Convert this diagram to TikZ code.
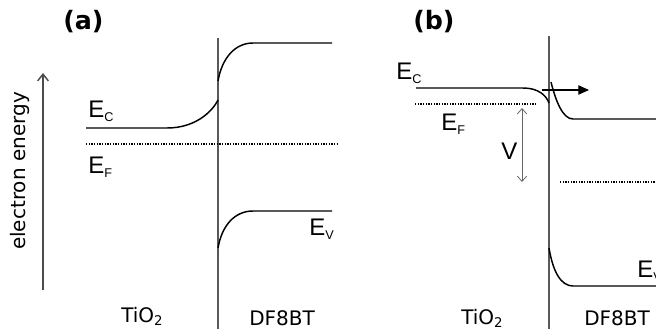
\documentclass[tikz,border=0pt]{standalone}
\usepackage{fontspec}
\setmainfont{DejaVu Sans}
\newfontfamily\arialf{Liberation Sans}
\usetikzlibrary{arrows.meta}
\newcommand{\Elab}[1]{{\arialf\fontsize{18pt}{18pt}\selectfont E\raisebox{-3pt}{\fontsize{9.5pt}{9.5pt}\selectfont #1}}}
\newcommand{\TiOtwo}{TiO\raisebox{-2.5pt}{\fontsize{10pt}{10pt}\selectfont 2}}
\tikzset{
  band/.style={line width=1.1pt, draw=black},
  iface/.style={line width=1.1pt, draw=black!65},
  fermi/.style={line width=1pt, dash pattern=on 0.9pt off 1.1pt},
  lbl/.style={inner sep=0pt, anchor=base west},
  mat/.style={inner sep=0pt, anchor=base west, font=\fontsize{15pt}{15pt}\selectfont},
  panel/.style={inner sep=0pt, anchor=base west, font=\fontsize{19pt}{19pt}\selectfont\bfseries},
  greyarrow/.style={draw=black!60, line width=0.6pt},
}
\begin{document}
\begin{tikzpicture}[x=0.75pt,y=-0.75pt]
\useasboundingbox (0,0) rectangle (656,329);

% ---------- panel (a) ----------
\node[panel] (pa) at (63,29) {(a)};
\draw[iface] (218,38) -- (218,329);
% conduction band
\draw[band] (86,128) -- (167,128) .. controls (195,128) and (212,112) .. (218,100);
\draw[band] (218,81) .. controls (222,58) and (235,43) .. (253,43) -- (332,43);
% Fermi level
\draw[fermi] (86,144) -- (338,144);
% valence band
\draw[band] (218,248) .. controls (222,225) and (235,211) .. (253,211) -- (332,211);
% labels
\node[lbl] (eca) at (88,117) {\Elab{C}};
\node[lbl] (efa) at (88,173) {\Elab{F}};
\node[lbl] (eva) at (309,235) {\Elab{V}};
\node[mat] (tioa) at (121,322) {\TiOtwo};
\node[mat] (dfa) at (249,325) {DF8BT};
% energy axis
\coordinate (axbot) at (43,290);
\coordinate (axtop) at (43,73);
\draw[draw=black!70, line width=1.1pt, -{Straight Barb[length=5pt,width=8pt]}] (axbot) -- (axtop);
\node[rotate=90, inner sep=0pt, font=\fontsize{15pt}{15pt}\selectfont] (ee) at (20,171) {electron energy};

% ---------- panel (b) ----------
\node[panel] (pb) at (413,29) {(b)};
\draw[iface] (549,36) -- (549,329);
% conduction band
\draw[band] (416,88) -- (523,88) .. controls (538,88) and (546,95) .. (549,103);
\draw[band] (551,82) .. controls (556,102) and (563,119) .. (573,119) -- (656,119);
% Fermi levels
\draw[fermi] (415,104) -- (537,104);
\draw[fermi] (560,182) -- (656,182);
% valence band
\draw[band] (549,248) .. controls (553,272) and (561,286) .. (573,286) -- (656,286);
% injection arrow
\coordinate (injs) at (542,90);
\coordinate (inje) at (589,90);
\draw[line width=0.8pt, -{Triangle[length=8pt,width=7pt]}] (injs) -- (inje);
% V arrow
\coordinate (vtop) at (522,108);
\coordinate (vbot) at (522,182);
\draw[greyarrow, {Straight Barb[length=4pt,width=7pt]}-{Straight Barb[length=4pt,width=7pt]}] (vtop) -- (vbot);
\node[lbl, font=\arialf\fontsize{18pt}{18pt}\selectfont] (vl) at (501,159) {V};
% labels
\node[lbl] (ecb) at (396,79) {\Elab{C}};
\node[lbl] (efb) at (441,130) {\Elab{F}};
\node[lbl] (evb) at (637,277) {\Elab{V}};
\node[mat] (tiob) at (461,324) {\TiOtwo};
\node[mat] (dfb) at (584,325) {DF8BT};
\end{tikzpicture}
\end{document}
